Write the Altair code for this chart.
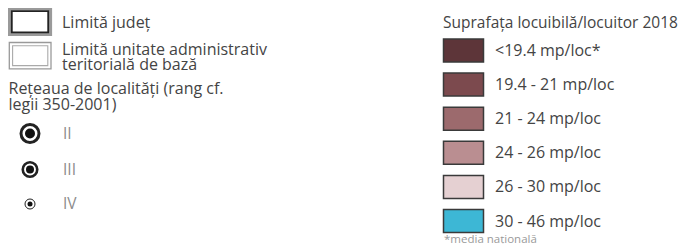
import altair as alt
import pandas as pd

# ---- data ----
boundary_labels = [["Limită județ"], ["Limită unitate administrativ", "teritorială de bază"]]
network_title = ["Rețeaua de localități (rang cf.", "legii 350-2001)"]
rank_labels = ["II", "III", "IV"]
rank_ring_size = [324, 210, 100]
rank_ring_width = [3.0, 2.6, 1.0]
rank_dot_size = [100, 64, 25]

area_title = "Suprafața locuibilă/locuitor 2018"
area_labels = ["<19.4 mp/loc*", "19.4 - 21 mp/loc", "21 - 24 mp/loc",
               "24 - 26 mp/loc", "26 - 30 mp/loc", "30 - 46 mp/loc"]
area_colors = ["#5d3539", "#7c4a4e", "#9c6a6d", "#ba8e91", "#e5d0d2", "#3db7d5"]
footnote = "*media națională"

FONT = "Open Sans"
TXT = "#444444"

X = alt.Scale(domain=[8, 680], nice=False, zero=False)
Y = alt.Scale(domain=[8, 244], nice=False, zero=False, reverse=True)


def xq(f):
    return alt.X(f"{f}:Q", scale=X, axis=None)


def yq(f):
    return alt.Y(f"{f}:Q", scale=Y, axis=None)


layers = []

# --- boundary boxes ---
box_outer = pd.DataFrame({"x": [9.5, 9.3], "x2": [50.5, 51], "y": [9, 42.5], "y2": [34.5, 68.8],
                          "w": [3.2, 1.3], "c": ["#9a9a9a", "#9a9a9a"]})
box_inner = pd.DataFrame({"x": [11.8, 12.6], "x2": [48.2, 47.8], "y": [11.2, 45.8], "y2": [32.3, 65.6],
                          "w": [1.8, 1.1], "c": ["#222222", "#aaaaaa"]})
for df in (box_outer, box_inner):
    layers.append(
        alt.Chart(df).mark_rect(fill="white").encode(
            x=xq("x"), x2="x2", y=yq("y"), y2="y2",
            stroke=alt.Color("c:N", scale=None),
            strokeWidth=alt.StrokeWidth("w:Q", scale=None),
        )
    )

# --- left texts ---
left_rows = []
bases = [28, 54.5]
for i, lines in enumerate(boundary_labels):
    for j, t in enumerate(lines):
        left_rows.append({"x": 62, "y": bases[i] + 15.7 * j, "t": t})
for j, t in enumerate(network_title):
    left_rows.append({"x": 8.5, "y": 94 + 15.5 * j, "t": t})
left_df = pd.DataFrame(left_rows)
layers.append(
    alt.Chart(left_df).mark_text(align="left", baseline="alphabetic", font=FONT,
                                 fontSize=16, color=TXT).encode(
        x=xq("x"), y=yq("y"), text="t:N")
)

# --- rank symbols ---
rank_df = pd.DataFrame({
    "t": rank_labels,
    "ring": rank_ring_size,
    "rw": rank_ring_width,
    "dot": rank_dot_size,
})
rank_df["x"] = 30
rank_df["y"] = [133.5, 169.5, 204]
rank_df["tx"] = 63
layers.append(
    alt.Chart(rank_df).mark_point(shape="circle", filled=False, color="#222222", opacity=1).encode(
        x=xq("x"), y=yq("y"), size=alt.Size("ring:Q", scale=None),
        strokeWidth=alt.StrokeWidth("rw:Q", scale=None))
)
layers.append(
    alt.Chart(rank_df).mark_point(shape="circle", filled=True, color="#111111", opacity=1).encode(
        x=xq("x"), y=yq("y"), size=alt.Size("dot:Q", scale=None))
)
layers.append(
    alt.Chart(rank_df).mark_text(align="left", baseline="middle", font=FONT,
                                 fontSize=15.5, color="#8c8c8c").encode(
        x=xq("tx"), y=yq("y"), text="t:N")
)

# --- right legend ---
title_df = pd.DataFrame({"x": [443], "y": [28], "t": [area_title]})
layers.append(
    alt.Chart(title_df).mark_text(align="left", baseline="alphabetic", font=FONT,
                                  fontSize=15.5, color=TXT).encode(
        x=xq("x"), y=yq("y"), text="t:N")
)
sw = pd.DataFrame({"t": area_labels, "c": area_colors})
sw["i"] = range(len(sw))
sw["yc"] = 50.5 + sw["i"] * 34.1
sw["y"] = sw["yc"] - 11.5
sw["y2"] = sw["yc"] + 11.5
sw["x"] = 443.5
sw["x2"] = 483.5
sw["tx"] = 495
sw["ty"] = sw["yc"] + 5.5
layers.append(
    alt.Chart(sw).mark_rect(stroke="#3a3a3a", strokeWidth=1.5).encode(
        x=xq("x"), x2="x2", y=yq("y"), y2="y2",
        fill=alt.Color("c:N", scale=None))
)
layers.append(
    alt.Chart(sw).mark_text(align="left", baseline="alphabetic", font=FONT,
                            fontSize=16, color=TXT).encode(
        x=xq("tx"), y=yq("ty"), text="t:N")
)
fn_df = pd.DataFrame({"x": [444], "y": [242.5], "t": [footnote]})
layers.append(
    alt.Chart(fn_df).mark_text(align="left", baseline="alphabetic", font=FONT,
                               fontSize=11.5, color="#9a9a9a").encode(
        x=xq("x"), y=yq("y"), text="t:N")
)

chart = alt.layer(*layers).properties(
    width=672, height=236, padding=0, autosize=alt.AutoSizeParams(type="none"),
    background="white",
).configure_view(stroke=None)

chart.save("out.html", embed_options={"renderer": "svg", "actions": False})
